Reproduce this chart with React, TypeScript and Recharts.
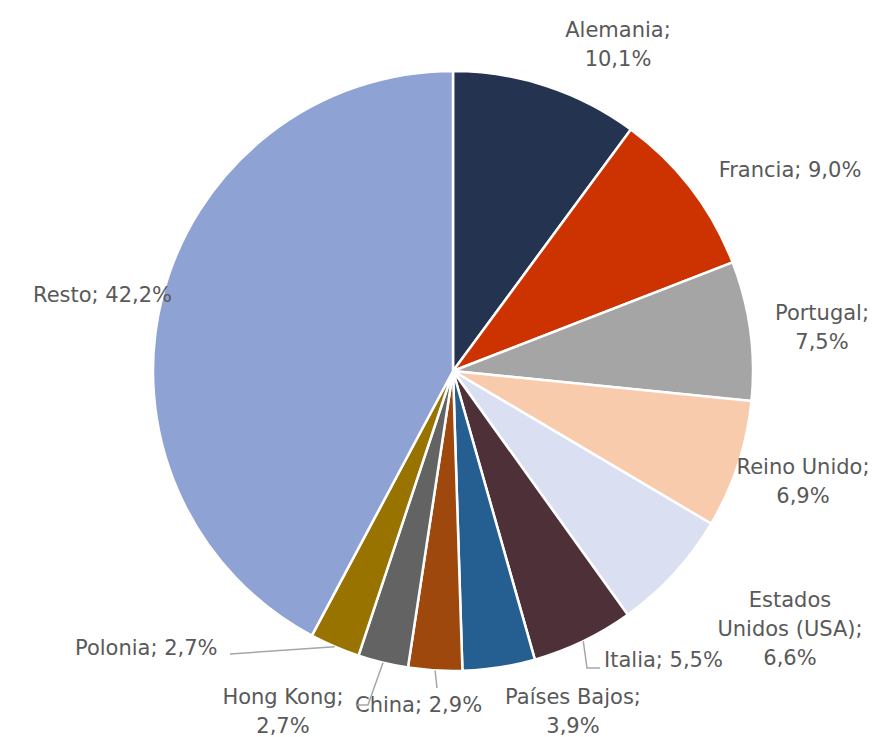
import { PieChart, Pie, Cell } from "recharts";

const countries = [
  "Alemania",
  "Francia",
  "Portugal",
  "Reino Unido",
  "Estados Unidos (USA)",
  "Italia",
  "Países Bajos",
  "China",
  "Hong Kong",
  "Polonia",
  "Resto",
];
const shares = [10.1, 9.0, 7.5, 6.9, 6.6, 5.5, 3.9, 2.9, 2.7, 2.7, 42.2];
const sliceColors = [
  "#243350",
  "#CC3300",
  "#A5A5A5",
  "#F8CBAD",
  "#DAE0F2",
  "#4E3038",
  "#255E91",
  "#9E480E",
  "#636363",
  "#997300",
  "#8FA2D4",
];

const data = countries.map((name, i) => ({ name, value: shares[i] }));

// label placement, offsets from the pie centre (Excel "best fit" look)
type LabelPos = {
  dx: number;
  dy: number;
  anchor: "middle" | "start";
  lines: 1 | 2 | 3;
  leader?: [number, number][];
};
const labelLayout: LabelPos[] = [
  { dx: 165, dy: -341, anchor: "middle", lines: 2 },
  { dx: 337, dy: -201, anchor: "middle", lines: 1 },
  { dx: 369, dy: -58, anchor: "middle", lines: 2 },
  { dx: 350, dy: 96, anchor: "middle", lines: 2 },
  { dx: 337, dy: 229, anchor: "middle", lines: 3 },
  { dx: 151, dy: 289, anchor: "start", lines: 1, leader: [[134, 297], [147, 297]] },
  { dx: 120, dy: 326, anchor: "middle", lines: 2 },
  { dx: -98, dy: 334, anchor: "start", lines: 1, leader: [[-16, 317]] },
  { dx: -170, dy: 326, anchor: "middle", lines: 2, leader: [[-85, 334], [-96, 334]] },
  { dx: -378, dy: 277, anchor: "start", lines: 1, leader: [[-223, 283]] },
  { dx: -420, dy: -76, anchor: "start", lines: 1 },
];

const RAD = Math.PI / 180;
const fmt = (v: number) => v.toFixed(1).replace(".", ",") + "%";

const renderLabel = (props: any) => {
  const { cx, cy, midAngle, outerRadius, index, name, value } = props;
  const pos = labelLayout[index];
  const x = cx + pos.dx;
  const y = cy + pos.dy;
  let lines: string[];
  if (pos.lines === 1) lines = [`${name}; ${fmt(value)}`];
  else if (pos.lines === 2) lines = [`${name};`, fmt(value)];
  else {
    const sp = name.indexOf(" ");
    lines = [name.slice(0, sp), `${name.slice(sp + 1)};`, fmt(value)];
  }
  const gap = 29;
  let leader = null;
  if (pos.leader) {
    const sx = cx + outerRadius * Math.cos(-midAngle * RAD);
    const sy = cy + outerRadius * Math.sin(-midAngle * RAD);
    const pts = [[sx, sy], ...pos.leader.map(([a, b]) => [cx + a, cy + b])];
    leader = (
      <polyline
        points={pts.map((p) => p.join(",")).join(" ")}
        fill="none"
        stroke="#A6A6A6"
        strokeWidth={1.5}
      />
    );
  }
  return (
    <g key={`lbl-${index}`}>
      {leader}
      <text
        x={x}
        y={y}
        textAnchor={pos.anchor}
        fill="#595959"
        fontSize={21}
        fontFamily="'DejaVu Sans', sans-serif"
      >
        {lines.map((l, i) => (
          <tspan key={i} x={x} y={y + i * gap} dominantBaseline="central">
            {l}
          </tspan>
        ))}
      </text>
    </g>
  );
};

export default function App() {
  return (
    <div style={{ position: "absolute", left: 0, top: 0, background: "#fff" }}>
      <PieChart
        width={878}
        height={737}
        margin={{ top: 0, right: 0, bottom: 0, left: 0 }}
      >
        <Pie
          data={data}
          dataKey="value"
          nameKey="name"
          cx={453}
          cy={371}
          outerRadius={300}
          startAngle={90}
          endAngle={-270}
          stroke="#ffffff"
          strokeWidth={2.5}
          label={renderLabel}
          labelLine={false}
          isAnimationActive={false}
        >
          {data.map((_e, i) => (
            <Cell key={`cell-${i}`} fill={sliceColors[i]} />
          ))}
        </Pie>
      </PieChart>
    </div>
  );
}
